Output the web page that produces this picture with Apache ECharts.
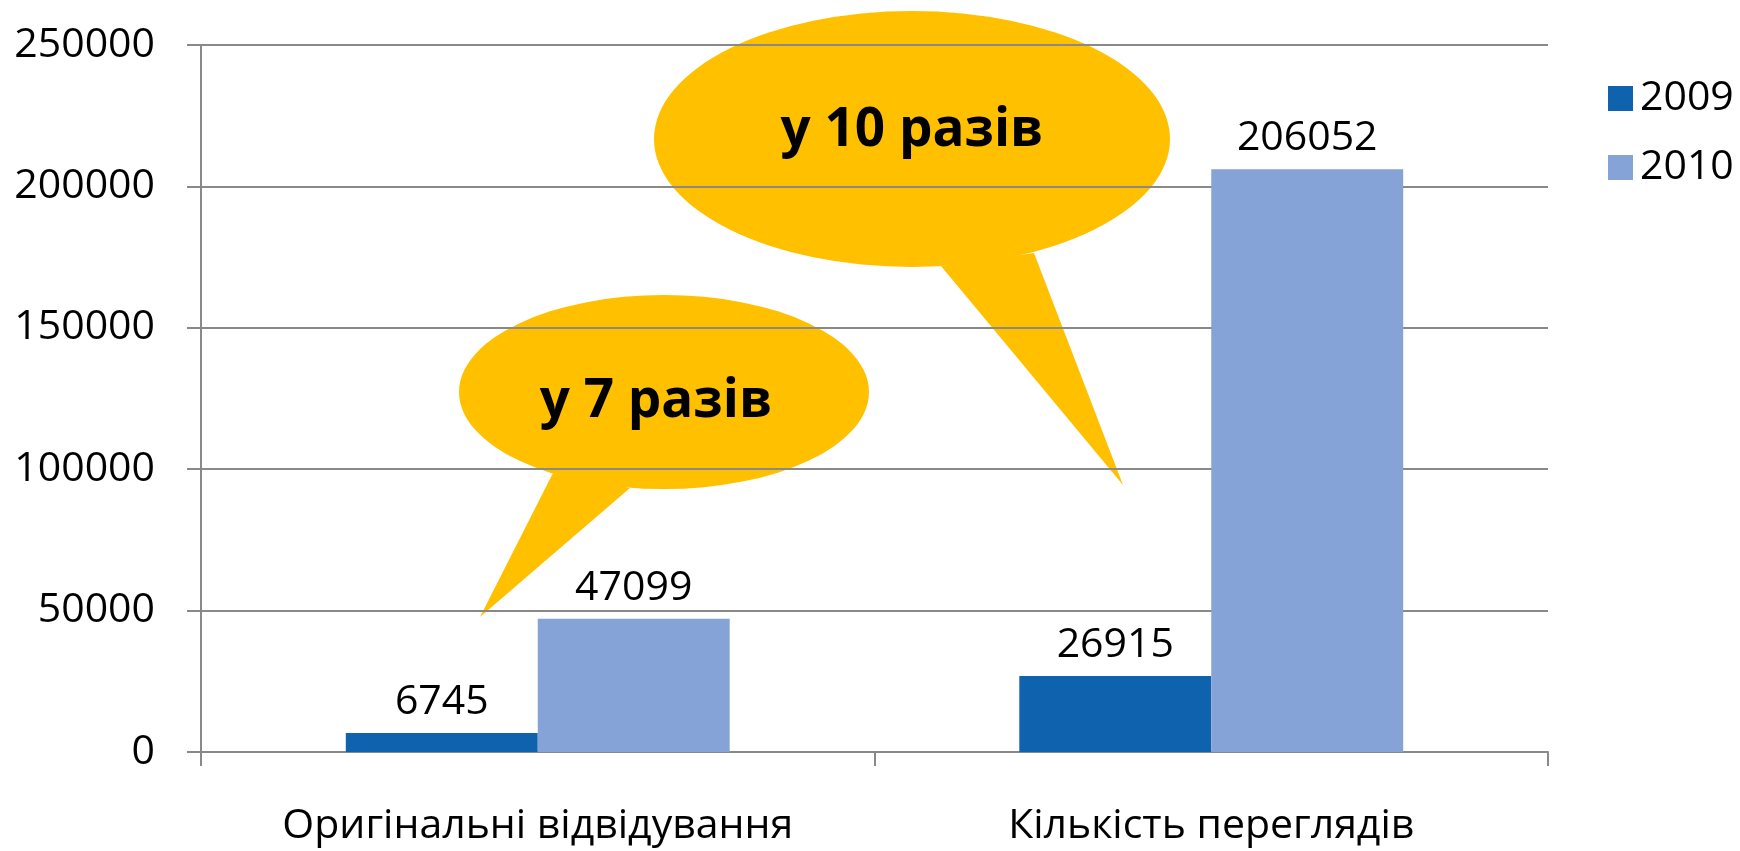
<!DOCTYPE html>
<html>
<head>
<meta charset="utf-8">
<script src="https://cdn.jsdelivr.net/npm/echarts@6/dist/echarts.min.js"></script>
<style>
  html, body { margin: 0; padding: 0; background: #fff; }
  #chart { width: 1740px; height: 851px; }
</style>
</head>
<body>
<div id="chart"></div>
<script>
const categories = ["Оригінальні відвідування", "Кількість переглядів"];
const seriesNames = ["2009", "2010"];
const values2009 = [6745, 26915];
const values2010 = [47099, 206052];
const yTicks = [0, 50000, 100000, 150000, 200000, 250000];
const calloutTexts = ["у 7 разів", "у 10 разів"];

const FONT = '"Open Sans", "Noto Sans", sans-serif';
const YELLOW = "#FFC000";
const AXIS_GRAY = "#898989";

const chart = echarts.init(document.getElementById("chart"), null, { renderer: "canvas" });

// speech bubble: ellipse + triangular tail + bold caption
function bubble(cx, cy, rx, ry, tail, text, tx, ty) {
  return {
    type: "group",
    z: 10,
    children: [
      { type: "circle", x: cx, y: cy, scaleX: rx / ry, shape: { cx: 0, cy: 0, r: ry }, style: { fill: YELLOW } },
      { type: "polygon", shape: { points: tail }, style: { fill: YELLOW } },
      {
        type: "text", x: tx, y: ty,
        style: {
          text: text, fill: "#000", font: "bold 53px " + FONT,
          align: "center", verticalAlign: "middle",
          textAlign: "center", textVerticalAlign: "middle"
        }
      }
    ]
  };
}

const labelStyle = { show: true, position: "top", distance: 10, color: "#000", fontSize: 41, fontFamily: FONT };

const option = {
  animation: false,
  backgroundColor: "#fff",
  grid: { left: 201, right: 192, top: 45, bottom: 99, containLabel: false },
  legend: {
    orient: "vertical",
    left: 1603,
    top: 73,
    itemWidth: 25,
    itemHeight: 25,
    itemGap: 28,
    icon: "rect",
    textStyle: { fontSize: 41, fontFamily: FONT, color: "#000", padding: [0, 0, 0, 2] },
    data: seriesNames
  },
  xAxis: {
    type: "category",
    data: categories,
    axisLine: { lineStyle: { color: AXIS_GRAY, width: 2 } },
    axisTick: { show: true, length: 14, lineStyle: { color: AXIS_GRAY, width: 2 } },
    axisLabel: { color: "#000", fontSize: 41, fontFamily: FONT, margin: 54 }
  },
  yAxis: {
    type: "value",
    min: yTicks[0],
    max: yTicks[yTicks.length - 1],
    interval: yTicks[1] - yTicks[0],
    axisLine: { show: true, lineStyle: { color: AXIS_GRAY, width: 2 } },
    axisTick: { show: true, length: 14, lineStyle: { color: AXIS_GRAY, width: 2 } },
    splitLine: { lineStyle: { color: AXIS_GRAY, width: 2 } },
    axisLabel: { color: "#000", fontSize: 41, fontFamily: FONT, margin: 46, formatter: (v) => String(v) }
  },
  series: [
    {
      name: seriesNames[0], type: "bar", data: values2009,
      barWidth: "28.5%", barGap: "0%",
      itemStyle: { color: "#0F62AE" },
      label: labelStyle
    },
    {
      name: seriesNames[1], type: "bar", data: values2010,
      barWidth: "28.5%", barGap: "0%",
      itemStyle: { color: "#86A3D7" },
      label: labelStyle
    }
  ],
  graphic: [
    bubble(664, 392, 205, 97, [[553, 473], [630, 488], [480, 617]], calloutTexts[0], 656, 402),
    bubble(912, 139, 258, 128, [[941, 266], [1034, 253], [1123, 485]], calloutTexts[1], 912, 131)
  ]
};

chart.setOption(option);
</script>
</body>
</html>
